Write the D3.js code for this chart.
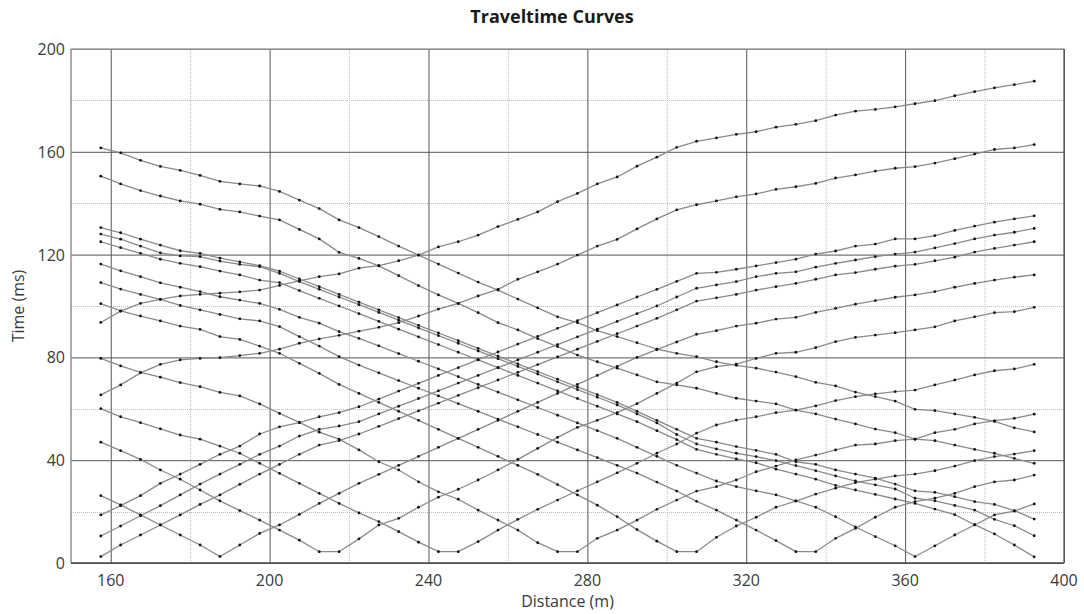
<!DOCTYPE html>
<html>
<head>
<meta charset="utf-8">
<script src="https://cdn.jsdelivr.net/npm/d3@7"></script>
<style>
  body { margin: 0; background: #fff; }
  text { font-family: 'Open Sans', 'Noto Sans', sans-serif; fill: #3a3a3a; }
</style>
</head>
<body>
<script>
var width = 1084
var height = 614
var margin = { top: 49, right: 20, bottom: 51, left: 71 }

// receiver positions (m)
var distances = [157.5, 162.5, 167.5, 172.5, 177.5, 182.5, 187.5, 192.5, 197.5, 202.5,
    207.5, 212.5, 217.5, 222.5, 227.5, 232.5, 237.5, 242.5, 247.5, 252.5,
    257.5, 262.5, 267.5, 272.5, 277.5, 282.5, 287.5, 292.5, 297.5, 302.5,
    307.5, 312.5, 317.5, 322.5, 327.5, 332.5, 337.5, 342.5, 347.5, 352.5,
    357.5, 362.5, 367.5, 372.5, 377.5, 382.5, 387.5, 392.5]

var xTicks = [160, 200, 240, 280, 320, 360, 400]
var yTicks = [0, 40, 80, 120, 160, 200]
var xMinor = [180, 220, 260, 300, 340, 380]
var yMinor = [20, 60, 100, 140, 180]

// travel times (ms), one list per shot
var shotU1 = [93.6, 98, 101, 102.6, 103.9, 104.5, 105, 105.5, 106.2, 108, 109.8, 111.4, 112.5, 114.7, 115.7, 117.6, 119.8, 123, 125, 127.6, 130.9, 133.7, 136.6, 140.6, 143.8, 147.5, 150.2, 154.4, 157.9, 161.7, 164.1, 165.4, 166.8, 167.8, 169.6, 170.7, 172.1, 174.3, 175.8, 176.5, 177.5, 178.7, 179.9, 181.8, 183.4, 184.9, 186.1, 187.5]
var shotU2 = [65.4, 69.3, 74, 77.3, 79, 79.6, 79.9, 80.7, 81.6, 83.2, 85.5, 87.2, 88.6, 90.2, 91.7, 93.5, 96.1, 98.8, 101, 103.9, 106.5, 110.4, 113.3, 116.3, 119.8, 123.3, 125.9, 130, 133.9, 137.4, 139.4, 140.9, 142.5, 143.6, 145.4, 146.4, 147.7, 149.8, 151, 152.5, 153.6, 154.2, 155.6, 157.3, 159.1, 160.9, 161.5, 162.8]
var shotU3 = [18.7, 22.3, 26.2, 31, 34.6, 38.4, 42.3, 45.5, 50.2, 53, 54.6, 56.9, 58.5, 60.8, 63.8, 66.9, 69.9, 73, 76, 79.1, 82.1, 85.2, 88.2, 91.3, 94.3, 97.4, 100.4, 103.5, 106.5, 109.6, 112.7, 113.1, 114.3, 115.6, 116.9, 118.2, 120.2, 121.4, 123.3, 124.1, 126.1, 126.1, 127.4, 129.4, 131.1, 132.6, 133.9, 135.1]
var shotU4 = [10.5, 14.4, 18.4, 22.3, 26.5, 30.7, 34.6, 38.4, 42.3, 45.5, 49.4, 52, 53.3, 55, 58, 61, 64, 67, 70, 73, 76, 79, 82, 85, 88, 91, 94, 97, 100, 103.5, 106.9, 108.2, 109.5, 111.4, 112.7, 113.3, 115.1, 116.6, 117.9, 119.2, 120.2, 121, 122.6, 124.3, 126.1, 127.6, 128.7, 130.2]
var shotU5 = [2.5, 7, 10.9, 14.8, 18.7, 22.8, 26.5, 30.6, 34.6, 38.4, 42.3, 45.9, 47.6, 50.2, 53.2, 56.2, 59.2, 62.2, 65.2, 68.2, 71.2, 74.2, 77.2, 80.2, 83.2, 86.2, 89.2, 92.2, 95.2, 98.5, 101.9, 103.2, 104.5, 106.2, 107.5, 108.8, 110.4, 112.1, 113, 114.3, 115.5, 116.2, 117.6, 119, 121, 122.4, 123.7, 125]
var shotD1 = [161.5, 159.6, 156.7, 154.3, 152.8, 150.8, 148.5, 147.5, 146.7, 144.6, 141.2, 137.9, 133.5, 130.5, 127, 123.3, 119.8, 116.3, 112.8, 109.3, 106.2, 102.7, 99.3, 95.8, 93.5, 90.4, 88.1, 85.7, 83.2, 81.6, 80.3, 78.3, 76.9, 75.8, 74.3, 72.5, 70.3, 68.9, 66.5, 64.7, 63, 59.8, 59.3, 58, 56.7, 55.1, 52.6, 51]
var shotD2 = [150.5, 147.5, 144.9, 142.8, 140.9, 139.6, 137.6, 136.6, 135, 133.5, 129.8, 126.1, 120.9, 118.5, 115.6, 111.8, 107.9, 104.3, 101, 97.4, 93.5, 90.7, 87.3, 84.2, 80.9, 78.3, 75.8, 73.2, 70.5, 69.3, 68, 66, 64.1, 63, 61.9, 59.5, 58, 56, 54.1, 52.1, 50.7, 48.2, 47.6, 45.9, 44.2, 42.7, 40.7, 38.8]
var shotD3 = [130.5, 128.5, 126, 123.7, 121.5, 120.5, 118.6, 117.2, 115.7, 113.6, 110.5, 107.5, 104.5, 101.5, 98.5, 95.5, 92.5, 89.5, 86.5, 83.5, 80.5, 77.5, 74.5, 71.5, 68.5, 65.5, 62.5, 59, 55.5, 52, 48.5, 47, 45.3, 43.8, 42.3, 39.4, 38.4, 36.2, 34.6, 33, 30.7, 28.1, 27.5, 25.8, 23.9, 22.8, 20.4, 17.1]
var shotD4 = [128, 126, 123.3, 120.7, 119.5, 119.2, 117.5, 116.2, 115.3, 112.7, 109.5, 106.5, 103.5, 100.5, 97.5, 94.5, 91.5, 88.5, 85.5, 82.5, 79.5, 76.5, 73.5, 70.5, 67.5, 64.5, 61.5, 58, 54.5, 50, 46.3, 44.4, 42.7, 41.4, 39.8, 37.9, 35.9, 33.9, 31.9, 30.4, 28.8, 25.2, 24.2, 22.4, 20.6, 17, 14.5, 10.6]
var shotD5 = [125, 122.7, 120.5, 118.2, 116.6, 115.3, 113.6, 112.1, 110.1, 109.1, 106, 103, 100, 97, 94, 91, 88, 85, 82, 79, 76, 73, 70, 67, 64, 61, 58, 55, 51.5, 48, 44.2, 42.3, 40.5, 39, 36.5, 34.6, 32.6, 30.2, 28.4, 26.7, 24.9, 23.2, 21, 18.8, 14.9, 11.3, 7, 2.4]
var shotV1 = [26.2, 22.6, 18.7, 14.8, 10.9, 7, 2.5, 7, 11.5, 14.8, 18.9, 23.2, 27.1, 31, 34.5, 38, 41.5, 45, 48.5, 52, 55.5, 59, 62.5, 66, 69.5, 73, 76.5, 80, 83, 86, 89, 90.4, 92.2, 93.3, 94.9, 95.6, 97.5, 99.1, 100.7, 102.1, 103.4, 104.3, 105.6, 107.3, 108.8, 110.1, 111.2, 112.1]
var shotV2 = [47, 43.7, 40.3, 36.2, 32.6, 28.4, 24.2, 20.4, 16.7, 12.8, 8.9, 4.4, 4.4, 9.4, 14.8, 17.4, 21.7, 25.6, 28.7, 32.3, 36.2, 40.3, 44.6, 48.9, 52.8, 55.5, 58.5, 62, 66, 70, 74.4, 76.4, 77.4, 79.6, 81.6, 82, 83.8, 86.1, 87.8, 88.7, 89.6, 90.7, 91.9, 94.2, 95.8, 97.4, 97.8, 99.5]
var shotV3 = [60.1, 56.9, 54.6, 52.2, 49.8, 48.2, 45.5, 42.7, 38.8, 34.9, 31, 27.1, 23.2, 19.5, 16.1, 12.2, 8.1, 4.4, 4.4, 8.3, 12.8, 17, 20.9, 24.5, 28.1, 31.6, 35.1, 38.8, 42.7, 46.3, 50.5, 53.7, 55.6, 56.9, 58.5, 59.5, 61.1, 63.2, 64.7, 65.8, 66.7, 67.3, 69.3, 71.2, 73.2, 74.8, 75.5, 77.3]
var shotV4 = [79.6, 76.7, 74.2, 72.3, 70.2, 68.6, 66.4, 65, 61.9, 58.2, 54.7, 50.9, 48.2, 44, 39.4, 36.2, 31.6, 27.7, 24.8, 20.6, 16.7, 12.8, 7.9, 4.4, 4.4, 9.6, 12.8, 16.7, 20.9, 24.5, 28, 29.7, 32.3, 35.5, 37.7, 40.1, 42, 44, 45.9, 46.3, 47.6, 48.2, 50.7, 52, 54.1, 55.4, 56.3, 57.9]
var shotV5 = [100.9, 98.1, 96.1, 94.2, 92.2, 90.9, 88.1, 87, 84.4, 81.6, 77.7, 73.8, 69.5, 66, 62.5, 59, 55.5, 52, 48.5, 45, 41.5, 38, 34.5, 30.5, 26.5, 22.5, 18, 13, 8.5, 4.4, 4.4, 10, 14.4, 17.8, 21.7, 24.1, 26.8, 29.1, 31.3, 32.6, 33.9, 34.6, 35.9, 37.7, 39.8, 41.4, 42.4, 43.7]
var shotV6 = [109.1, 106.6, 104.5, 102.6, 100.2, 98.5, 96.7, 95, 94.2, 92, 88.1, 84.4, 80.3, 77, 74, 71, 68, 65, 62, 59, 56, 53, 50, 47, 44, 41, 38, 35, 31.5, 28, 24, 20.6, 16.7, 12.8, 8.7, 4.4, 4.4, 9.6, 13.5, 17.8, 21.7, 23.9, 25.2, 27.1, 29.7, 31.6, 32.3, 34.2]
var shotV7 = [116.3, 113.7, 111.4, 109, 107.3, 105.6, 103.6, 102.3, 101, 98.7, 95.6, 93.3, 90, 87.4, 84.5, 81.5, 78.5, 75.5, 72.5, 69.5, 66.5, 63.5, 60.5, 57.5, 54.5, 51.5, 48.5, 45, 41.5, 38, 35, 31.9, 29.7, 28.1, 26.5, 24.2, 21.7, 18, 14, 10.3, 6.7, 2.5, 6.7, 10.9, 14.8, 18.7, 20.2, 23]

var shots = [shotU1, shotU2, shotU3, shotU4, shotU5, shotD1, shotD2, shotD3, shotD4, shotD5,
    shotV1, shotV2, shotV3, shotV4, shotV5, shotV6, shotV7]

var svg = d3.select('body').append('svg')
    .attr('width', width)
    .attr('height', height)

var x = d3.scaleLinear()
    .domain([150, 400])
    .range([margin.left, width - margin.right])

var y = d3.scaleLinear()
    .domain([0, 200])
    .range([height - margin.bottom, margin.top])

// minor grid (dotted)
svg.append('g')
    .attr('class', 'grid-minor')
    .selectAll('line')
    .data(xMinor)
    .enter().append('line')
    .attr('x1', function(d) { return x(d) + 0.5 })
    .attr('x2', function(d) { return x(d) + 0.5 })
    .attr('y1', y(0))
    .attr('y2', y(200))
    .style('stroke', '#bdbdbd')
    .style('stroke-dasharray', '1,1')

svg.append('g')
    .attr('class', 'grid-minor')
    .selectAll('line')
    .data(yMinor)
    .enter().append('line')
    .attr('x1', x(150))
    .attr('x2', x(400))
    .attr('y1', function(d) { return Math.round(y(d)) + 0.5 })
    .attr('y2', function(d) { return Math.round(y(d)) + 0.5 })
    .style('stroke', '#bdbdbd')
    .style('stroke-dasharray', '1,1')

// major grid
svg.append('g')
    .attr('class', 'grid-major')
    .attr('transform', 'translate(0,' + y(0) + ')')
    .call(d3.axisBottom(x).tickValues(xTicks).tickSize(-(y(0) - y(200))).tickFormat(''))
    .call(function(g) { g.select('.domain').remove() })
    .selectAll('line')
    .style('stroke', '#555')

svg.append('g')
    .attr('class', 'grid-major')
    .attr('transform', 'translate(' + x(150) + ',0)')
    .call(d3.axisLeft(y).tickValues(yTicks).tickSize(-(x(400) - x(150))).tickFormat(''))
    .call(function(g) { g.select('.domain').remove() })
    .selectAll('line')
    .style('stroke', '#555')

// frame: lighter top/left, darker bottom/right
var frame = svg.append('g').attr('class', 'frame')
frame.append('line')
    .attr('x1', x(150)).attr('x2', x(400)).attr('y1', y(200)).attr('y2', y(200))
    .style('stroke', '#a0a0a0').style('stroke-width', 1.5)
frame.append('line')
    .attr('x1', x(150)).attr('x2', x(150)).attr('y1', y(200)).attr('y2', y(0))
    .style('stroke', '#909090').style('stroke-width', 1.5)
frame.append('line')
    .attr('x1', x(150)).attr('x2', x(400)).attr('y1', y(0)).attr('y2', y(0))
    .style('stroke', '#4a4a4a').style('stroke-width', 1.3)
frame.append('line')
    .attr('x1', x(400)).attr('x2', x(400)).attr('y1', y(200)).attr('y2', y(0))
    .style('stroke', '#5a5a5a').style('stroke-width', 1.3)

// tick labels
svg.append('g')
    .selectAll('text')
    .data(xTicks)
    .enter().append('text')
    .attr('x', function(d) { return x(d) })
    .attr('y', y(0) + 23)
    .attr('text-anchor', 'middle')
    .style('font-size', '16px')
    .text(function(d) { return d })

svg.append('g')
    .selectAll('text')
    .data(yTicks)
    .enter().append('text')
    .attr('x', x(150) - 6)
    .attr('y', function(d) { return y(d) + 6 })
    .attr('text-anchor', 'end')
    .style('font-size', '16px')
    .text(function(d) { return d })

// titles
svg.append('text')
    .attr('x', 552)
    .attr('y', 23)
    .attr('text-anchor', 'middle')
    .style('font-size', '18px')
    .style('font-weight', 'bold')
    .style('fill', '#1a1a1a')
    .text('Traveltime Curves')

svg.append('text')
    .attr('x', (x(150) + x(400)) / 2)
    .attr('y', 607)
    .attr('text-anchor', 'middle')
    .style('font-size', '16px')
    .text('Distance (m)')

svg.append('text')
    .attr('transform', 'translate(24,' + (y(0) + y(200)) / 2 + ') rotate(-90)')
    .attr('text-anchor', 'middle')
    .style('font-size', '16px')
    .text('Time (ms)')

// curves
var line = d3.line()
    .x(function(d, i) { return x(distances[i]) })
    .y(function(d) { return y(d) })

var curves = svg.append('g').attr('class', 'curves')

curves.selectAll('path')
    .data(shots)
    .enter().append('path')
    .attr('d', line)
    .style('fill', 'none')
    .style('stroke', '#8a8a8a')
    .style('stroke-width', 1.3)

shots.forEach(function(s) {
    curves.append('g')
        .selectAll('circle')
        .data(s)
        .enter().append('circle')
        .attr('cx', function(d, i) { return x(distances[i]) })
        .attr('cy', function(d) { return y(d) })
        .attr('r', 1.4)
        .style('fill', '#111')
})
</script>
</body>
</html>
